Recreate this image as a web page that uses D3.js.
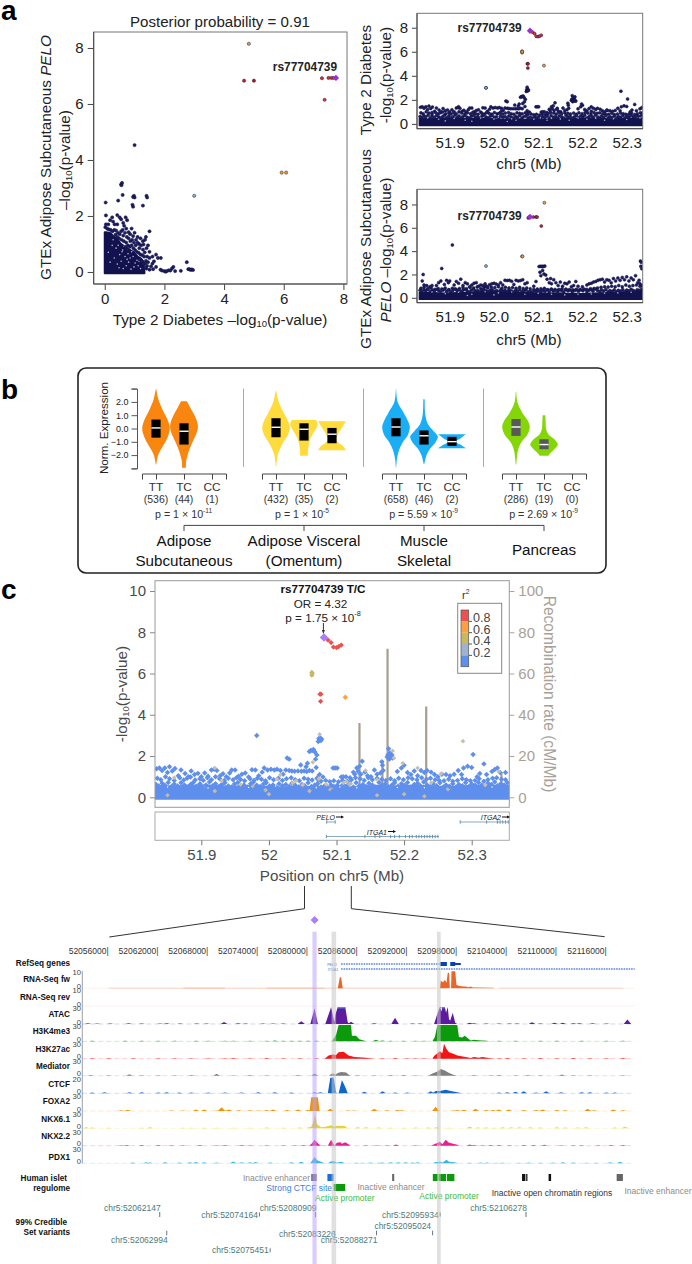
<!DOCTYPE html>
<html><head><meta charset="utf-8">
<script src="https://cdn.jsdelivr.net/npm/d3@7/dist/d3.min.js"></script>
<style>html,body{margin:0;padding:0;background:#fff}svg{display:block}text{font-family:"Liberation Sans",Arial,sans-serif}</style>
</head><body><div id="chart"></div>
<script>
// ---------- DATA ----------
const leadSnp = "rs77704739";
// Panel a, scatter (T2D -log10 p, eQTL -log10 p)
const scatterNavy = [[1,4.53],[.55,3.13],[.58,3.18],[.56,3.1],[.6,2.75],[.95,2.68],[.98,2.72],[1,2.66],[.93,2.4],[.95,2.33],[1.28,2.37],[1.4,2.72],[1.42,2.66],[.45,2.55],[.03,2.48],[.04,2.02],[.18,1.85],[.25,1.95],[.28,1.8],[.33,1.7],[.42,2.03],[.5,1.95],[.55,1.88],[.62,1.75],[.7,1.95],[.75,1.85],[.65,1.65],[.42,1.7],[.12,1.7],[.04,1.7],[.9,1.55],[1.0,1.4],[1.1,1.25],[1.05,1.15],[1.2,1.2],[1.28,1.1],[1.35,1.15],[1.5,1.45],[1.38,1.25],[1.45,.95],[1.5,.72],[1.6,.55],[1.72,.62],[1.78,.5],[1.88,.5],[1.6,.3],[1.65,.38],[1.55,.2],[1.72,.18],[1.5,.08],[1.62,.1],[1.87,.08],[1.92,.05],[2,.03],[2.04,.01],[2.08,.03],[2.14,.06],[2.2,.05],[2.25,.12],[2.3,.18],[2.36,.03],[2.55,.04],[2.75,.35],[2.8,.1],[2.84,.1],[2.88,.07],[2.92,.09],[2.96,.07],[.8,1.42],[.72,1.55],[.6,1.5],[.85,1.35],[.95,1.28],[1.15,1.0],[1.3,.98],[1.42,.55],[1.45,.35],[1.5,.5],
[.02,1.6],[.08,1.55],[.14,1.52],[.2,1.5],[.26,1.45],[.32,1.5],[.38,1.48],[.44,1.4],[.5,1.35],[.55,1.45],[.62,1.3],[.68,1.4],[.74,1.25],[.8,1.2],[.86,1.1],[.92,1.15],[.98,1.05],[1.04,.95],[1.1,1.05],[1.16,.85],[1.22,.95],[1.28,.8],[1.34,.7],[1.4,.85],[.48,1.2],[.56,1.15],[.64,1.1],[.72,1.05],[.78,.95],[.84,.9],[.9,.95],[.96,.85],[1.02,.78],[1.08,.72],[1.14,.68],[1.2,.62],[1.26,.6],[1.32,.55],[1.38,.4],[1.42,.22],[1.36,.3],[1.4,.12],[1.34,.15],[.36,1.33],[.42,1.25],[.7,.9],[.76,.8],[1.18,.45],[1.24,.38],[1.3,.3]];
const scatterHoles = [[.42,.28],[.58,.72],[.72,.22],[.85,.5],[.95,.55],[1.02,.32],[1.12,.22],[1.2,.12],[.65,.92],[.78,.65],[.45,.95],[.55,.38],[.98,.18],[.38,.85],[1.08,.42],[.88,.1],[.68,.55],[.5,.62],[.62,.12],[.8,.35],[.9,.72],[.32,.5],[.25,.95],[.18,.35],[.12,.7],[.28,1.15],[.6,.78],[.75,.45],[1.15,.38],[.48,.15]];
const scatterEnvelopeX = [0,.05,.2,.3,.42,.52,.65,.8,.95,1.1,1.22,1.3,1.33];
const scatterEnvelopeY = [1.42,1.42,1.38,1.26,1.18,1.02,.92,.82,.72,.55,.48,.36,0];
const scatterColored = [[7.28,6.92,"#e0343a"],[7.5,6.93,"#e0343a"],[7.6,6.93,"#e0343a"],[7.67,6.93,"#e0343a"],[7.37,6.15,"#e0343a"],[4.67,6.83,"#d81c28"],[5,6.83,"#b5121f"],[4.83,8.15,"#d9a050"],[5.93,3.55,"#f0a030"],[6.08,3.55,"#f0a030"],[3,2.72,"#8fb3c4"]];
const leadScatter = [7.75,6.93];
// T2D GWAS above the dense band, [Mb, -log10 p]
const t2dBlue = [[51.834,1.38],[51.838,1.42],[51.842,1.3],[51.846,1.42],[51.85,1.2],[51.853,1.48],[51.857,1.28],[51.861,1.4],[51.866,1.05],[51.87,1.32],[51.876,1.15],[51.881,1.0],[51.885,1.28],[51.89,1.1],[51.895,1.16],[51.9,1.0],[51.905,1.18],[51.91,1.02],[51.915,1.32],[51.919,1.36],[51.923,1.3],[51.928,1.05],[51.932,1.14],[51.937,1.0],[51.942,1.18],[51.945,1.32],[51.95,1.32],[51.955,1.02],[51.96,1.12],[51.965,1.18],[51.97,.98],[51.975,1.34],[51.98,1.32],[51.985,1.05],[51.99,1.22],[51.993,1.42],[51.998,1.32],[52.003,1.36],[52.008,1.32],[52.012,1.36],[52.017,1.3],[52.021,1.12],[52.025,1.32],[52.03,1.3],[52.034,1.28],[52.038,1.26],[52.043,1.27],[52.048,1.26],[52.052,1.27],[52.056,1.25],[52.06,1.3],[52.064,1.27],[52.027,1.9],[52.03,1.85],[52.047,1.57],[52.055,1.48],[52.057,1.65],[52.06,2.22],[52.062,2.27],[52.064,2.27],[52.066,2.32],[52.068,2.2],[52.069,1.85],[52.071,2.05],[52.073,2.7],[52.074,2.85],[52.075,2.78],[52.076,2.88],[52.077,2.75],[52.078,2.82],[52.07,1.45],[52.075,1.1],[52.08,.98],[52.095,1.42],[52.098,1.42],[52.101,1.42],[52.107,.98],[52.11,1.0],[52.114,1.0],[52.12,.95],[52.125,1.22],[52.127,1.12],[52.13,1.42],[52.132,1.25],[52.134,1.5],[52.136,1.12],[52.138,1.75],[52.142,1.22],[52.146,1.05],[52.151,1.0],[52.156,1.32],[52.16,1.12],[52.165,1.18],[52.167,1.72],[52.168,1.55],[52.169,1.3],[52.175,1.95],[52.176,2.05],[52.177,2.35],[52.178,1.85],[52.179,2.15],[52.18,1.95],[52.182,2.05],[52.183,1.9],[52.19,1.25],[52.196,1.42],[52.2,1.55],[52.205,1.2],[52.21,1.1],[52.215,1.28],[52.22,1.05],[52.225,1.3],[52.23,1.2],[52.234,1.3],[52.24,1.22],[52.245,1.1],[52.25,1.0],[52.256,1.12],[52.262,1.1],[52.268,1.05],[52.274,1.12],[52.28,1.3],[52.285,1.1],[52.288,1.42],[52.294,1.5],[52.3,1.45],[52.302,2.07],[52.308,1.0],[52.312,1.15],[52.318,1.62],[52.322,1.1],[52.33,1.25],[52.334,1.35],[52.338,1.42],[52.342,1.2],[52.35,1.2],[51.982,3]];
const t2dRow = [51.835,51.84,51.847,51.853,51.86,51.868,51.874,51.879,51.884,51.891,51.898,51.903,51.909,51.915,51.921,51.927,51.934,51.94,51.947,51.952,51.958,51.964,51.972,51.978,51.983,51.989,51.995,52.001,52.007,52.014,52.02,52.026,52.033,52.039,52.045,52.052,52.058,52.064,52.071,52.077,52.084,52.09,52.096,52.103,52.109,52.116,52.122,52.128,52.135,52.141,52.147,52.153,52.16,52.167,52.173,52.18,52.186,52.192,52.199,52.206,52.212,52.219,52.226,52.233,52.239,52.246,52.252,52.259,52.266,52.272,52.279,52.286,52.292,52.298,52.305,52.311,52.318,52.324,52.331,52.337,52.344,52.35];
const t2dRowY = [.92,.85,1.0,.9,.82,.95,.84,.92,.98,.84,.9,.82,.95,.85,1.0,.9,.82,.92,.85,.95,.86,.8,.9,.82,.92,.88,.8,.95,.85,.92,.82,.9,.95,.85,.8,.92,.88,.84,.92,.78,.82,.76,.8,.75,.82,.78,.85,.95,.9,.82,.95,.85,.92,.88,.82,.9,.8,.92,.85,.95,.9,.85,.95,.88,.92,.85,.82,.8,.88,.78,.82,.9,.85,.8,.82,.9,.78,.85,.92,.95,.88,.85];
const t2dRow2 = [51.833,51.837,51.842,51.846,51.851,51.856,51.86,51.865,51.87,51.875,51.879,51.884,51.888,51.893,51.898,51.902,51.907,51.912,51.917,51.921,51.926,51.93,51.935,51.94,51.945,51.949,51.954,51.958,51.963,51.968,51.973,51.977,51.982,51.987,51.992,51.996,52.001,52.006,52.011,52.015,52.02,52.025,52.03,52.034,52.039,52.044,52.049,52.053,52.058,52.063,52.068,52.072,52.077,52.082,52.087,52.092,52.096,52.101,52.106,52.11,52.115,52.12,52.125,52.129,52.134,52.139,52.144,52.148,52.153,52.158,52.163,52.167,52.172,52.177,52.182,52.186,52.191,52.196,52.201,52.205,52.21,52.215,52.22,52.224,52.229,52.234,52.239,52.243,52.248,52.253,52.258,52.262,52.267,52.272,52.277,52.281,52.286,52.291,52.296,52.3,52.305,52.31,52.315,52.319,52.324,52.329,52.334,52.338,52.343,52.348,52.353];
const t2dRow2Y = [.62,.55,.68,.58,.72,.52,.65,.55,.7,.6,.5,.62,.72,.54,.66,.5,.6,.74,.56,.66,.52,.62,.7,.55,.5,.64,.72,.56,.6,.5,.66,.74,.58,.52,.64,.7,.55,.6,.5,.66,.56,.62,.52,.68,.58,.5,.62,.56,.7,.52,.6,.66,.5,.55,.48,.6,.52,.58,.5,.62,.54,.66,.5,.7,.56,.62,.52,.68,.6,.5,.72,.58,.64,.5,.6,.7,.54,.66,.58,.72,.5,.62,.68,.56,.74,.6,.52,.66,.56,.7,.5,.6,.54,.66,.5,.62,.56,.7,.52,.64,.58,.72,.6,.54,.68,.62,.74,.56,.66,.6,.7];
const t2dBandX = [51.8315,51.86,51.88,51.9,51.92,51.94,51.96,51.98,52,52.02,52.04,52.06,52.08,52.1,52.12,52.14,52.16,52.18,52.2,52.22,52.24,52.26,52.28,52.3,52.32,52.34,52.3556];
const t2dBandY = [.46,.42,.46,.48,.46,.42,.44,.46,.4,.38,.42,.4,.36,.4,.38,.42,.46,.42,.46,.46,.44,.4,.42,.46,.46,.46,.46];
const t2dHoles = [[51.85,.5],[51.875,.38],[51.91,.45],[51.935,.3],[51.97,.48],[52.0,.4],[52.01,.55],[52.04,.42],[52.05,.3],[52.07,.46],[52.09,.38],[52.105,.5],[52.12,.3],[52.13,.46],[52.15,.4],[52.17,.3],[52.19,.48],[52.21,.38],[52.23,.46],[52.25,.3],[52.27,.42],[52.3,.36],[52.33,.5],[51.89,.25],[51.95,.22],[52.03,.2]];
const t2dReds = [[52.0875,7.62],[52.092,7.5],[52.0955,7.28],[52.1,7.26],[52.103,7.3],[52.107,7.38],[52.0755,5],[52.077,5],[52.0765,4.65]];
const t2dOrange = [[52.113,4.85]];
const t2dOlive = [[52.0635,6.05],[52.0635,5.92],[52.064,6]];
const t2dTan = [[51.905,.55],[51.86,.95],[51.92,1.42],[51.93,.8],[51.958,.62],[51.976,.55],[52.012,.88],[52.017,1.08],[52.04,.8],[52.075,3.05],[52.065,1.7],[52.05,.6],[52.035,.7],[52.074,.9],[52.085,.62],[52.09,.4],[52.095,.5],[52.11,.7],[52.115,.75],[52.143,1.3],[52.16,.85],[52.183,2.25],[52.185,1.9],[52.198,1.65],[52.22,1.42],[52.24,.7],[52.255,1.15],[52.265,.4],[52.287,2.72],[52.34,1.25],[52.32,.6],[52.06,.3],[52.16,.1],[52.2,.15],[52.12,.65],[52.23,.05],[52.0,.15],[51.995,.35],[51.92,.3],[51.85,.1]];
const leadPos = 52.0815, leadT2d = 7.75, leadEqtl = 6.93;
// eQTL GTEx adipose, Mb vs -log10 p
const eqtlBlue = [[51.84,2],[51.838,1.45],[51.882,2.52],[51.906,4.53],[51.87,1.05],[51.875,1.3],[51.88,1.45],[51.888,1.15],[51.893,1.5],[51.897,1.3],[51.9,1.45],[51.91,1.1],[51.915,1.4],[51.92,1.25],[51.925,1.6],[51.93,1.05],[51.935,1.3],[51.94,1.2],[51.945,.95],[51.95,1.1],[51.955,1.25],[51.96,1.3],[51.965,1.0],[51.97,1.1],[51.975,1.05],[51.98,1.2],[51.985,.95],[51.99,1.12],[51.995,1.2],[52,1.25],[52.005,1.18],[52.01,1.1],[52.015,1.3],[52.02,1.1],[52.025,1.5],[52.03,1.48],[52.035,1.5],[52.04,1.42],[52.045,1.15],[52.05,1.5],[52.055,1.45],[52.06,1.48],[52.065,1.55],[52.07,1.2],[52.075,1.3],[52.09,1.0],[52.095,1.4],[52.102,2.68],[52.105,2.7],[52.108,2.68],[52.11,2.7],[52.112,2.68],[52.115,2.72],[52.104,2.2],[52.106,1.9],[52.11,2.35],[52.113,2.05],[52.117,1.95],[52.12,1.6],[52.125,1.3],[52.128,1.65],[52.13,1.2],[52.135,1.55],[52.14,1.3],[52.145,1.05],[52.15,1.35],[52.155,1.0],[52.16,1.25],[52.165,1.2],[52.17,1.35],[52.175,.95],[52.18,1.05],[52.185,1.4],[52.19,1.0],[52.2,.95],[52.21,1.1],[52.215,1.2],[52.22,1.25],[52.225,1.35],[52.23,1.4],[52.235,1.5],[52.24,1.55],[52.245,1.6],[52.25,1.35],[52.255,1.55],[52.26,1.5],[52.265,1.3],[52.27,1.65],[52.275,1.45],[52.28,1.7],[52.285,1.5],[52.29,1.75],[52.295,1.55],[52.3,1.8],[52.305,1.45],[52.31,1.7],[52.315,1.55],[52.32,1.9],[52.325,1.3],[52.328,1.5],[52.331,3.15],[52.333,3.05],[52.332,2.7],[52.334,2.5],[52.33,1.2],[52.334,1.05],[51.982,1.0],[51.842,1.1],[51.848,1.05],[51.855,.95],[51.86,1.05]];
const eqtlRow = [51.835,51.842,51.85,51.858,51.866,51.874,51.882,51.89,51.898,51.906,51.914,51.922,51.93,51.938,51.946,51.954,51.962,51.97,51.978,51.986,51.994,52.002,52.01,52.018,52.026,52.034,52.042,52.05,52.058,52.066,52.074,52.082,52.09,52.098,52.106,52.114,52.122,52.13,52.138,52.146,52.154,52.162,52.17,52.178,52.186,52.194,52.202,52.21,52.218,52.226,52.234,52.242,52.25,52.258,52.266,52.274,52.282,52.29,52.298,52.306,52.314,52.322,52.33];
const eqtlRowY = [.82,.9,.78,.88,.72,.8,.76,.85,.7,.82,.74,.8,.88,.78,.9,.85,.92,.8,.9,.85,.92,.88,.95,.82,.9,.85,.88,.82,.9,.8,.85,.78,.72,.75,.78,.82,.7,.75,.72,.7,.78,.72,.7,.68,.7,.72,.7,.72,.78,.8,.85,.9,.95,.92,1.0,.95,1.05,.95,1.1,1.0,1.05,1.1,1.0];
const eqtlBandX = [51.8315,51.86,51.88,51.9,51.92,51.94,51.96,51.98,52,52.02,52.04,52.06,52.08,52.1,52.12,52.14,52.16,52.18,52.2,52.22,52.24,52.26,52.28,52.3,52.32,52.34,52.3556];
const eqtlBandY = [.46,.46,.4,.42,.44,.46,.52,.58,.56,.5,.52,.48,.44,.42,.4,.42,.38,.36,.34,.38,.42,.46,.5,.52,.56,.58,.58];
const eqtlHoles = [[51.86,.5],[51.89,.35],[51.92,.48],[51.95,.3],[51.98,.52],[52.01,.42],[52.04,.5],[52.07,.3],[52.1,.38],[52.13,.3],[52.16,.25],[52.19,.3],[52.22,.32],[52.25,.4],[52.28,.42],[52.31,.48],[52.34,.4],[52.0,.25],[51.94,.2]];
const eqtlReds = [[52.0775,6.85],[52.0795,6.92],[52.089,6.92],[52.095,6.93],[52.0975,6.92],[52.107,6.15]];
const eqtlOrange = [[52.114,8.15],[52.0635,3.55],[52.0645,3.55]];
const eqtlTeal = [[51.982,2.72]];
// Recombination rate, Mb vs cM/Mb
const recombPos = [52.0723,52.134,52.168,52.1755,52.2327,52.344];
const recombRate = [11,36,18,72,44,12];
// Panel b
const tissues = ["Adipose Subcutaneous","Adipose Visceral (Omentum)","Muscle Skeletal","Pancreas"];
const tissueColors = ["#f8860f","#ffdb3c","#19aef5","#84d606"];
const genotypes = ["TT","TC","CC"];
const sampleCounts = [[536,44,1],[432,35,2],[658,46,2],[286,19,0]];
const pValues = [["1","-11"],["1","-5"],["5.59","-9"],["2.69","-9"]];
const adiposeTT = [[2.95,.02],[2.2,.17],[1.5,.44],[1,.68],[.5,.9],[0,1],[-.5,.9],[-1,.68],[-1.5,.4],[-2,.15],[-2.7,.02]];
const adiposeTC = [[2.05,.22],[1.6,.44],[1,.76],[.4,.98],[0,1],[-.5,.85],[-1,.62],[-1.5,.42],[-2,.26],[-2.5,.15],[-2.95,.14]];
const visceralTT = [[2.85,.02],[2,.2],[1.2,.55],[.5,.9],[0,1],[-.5,.85],[-1,.55],[-1.5,.3],[-2,.12],[-2.85,.02]];
const visceralTC = [[.65,.88],[.3,1],[0,.88],[-.3,.7],[-.8,.45],[-1.3,.33],[-2.05,.28]];
const visceralCC = [[.55,1],[.2,.8],[-.2,.55],[-.6,.35],[-.9,.32],[-1.1,.5],[-1.3,.8],[-1.62,1]];
const muscleTT = [[3,.01],[2,.12],[1.2,.55],[.5,.9],[.1,1],[-.5,.85],[-1,.5],[-1.6,.22],[-2.2,.08],[-2.95,.01]];
const muscleTC = [[2.2,.05],[1,.1],[.3,.3],[-.2,.7],[-.6,1],[-1,.85],[-1.5,.45],[-2,.18],[-2.65,.03]];
const muscleCC = [[-.42,1],[-.7,.65],[-.98,.28],[-1.2,.6],[-1.48,1]];
const pancreasTT = [[2.75,.02],[2,.1],[1.2,.45],[.6,.85],[.1,1],[-.5,.8],[-1,.4],[-1.6,.15],[-2.7,.02]];
const pancreasTC = [[1,.1],[.5,.12],[0,.15],[-.4,.3],[-.8,.75],[-1.2,1],[-1.5,.8],[-1.85,.45],[-2.05,.3]];
const violinRows = [[adiposeTT,adiposeTC,null],[visceralTT,visceralTC,visceralCC],[muscleTT,muscleTC,muscleCC],[pancreasTT,pancreasTC,null]];
const boxRows = [[[.68,.05,-.68],[.4,-.2,-1.2],null],[[.78,.1,-.65],[.4,-.05,-.9],[.05,-.42,-1.1]],[[.78,.12,-.58],[-.14,-.54,-1.2],[-.62,-.98,-1.3]],[[.72,.12,-.55],[-.8,-1.2,-1.55],null]];
const boxFill = [["#000","#000"],["#000","#000","#000"],["#000","#000","#000"],["#58595b","#58595b"]];
// Panel c legend
const r2Colors = ["#ee5050","#ffa03c","#c9b860","#9fb2cf","#5f8fec"];
const r2Labels = ["0.8","0.6","0.4","0.2"];
const geneExonsPelo = [52.0855,52.098];
const geneExonsItga1 = [52.085,52.142,52.157,52.164,52.18,52.186,52.193,52.202,52.208,52.212,52.218,52.222,52.226,52.23,52.234,52.238,52.242,52.246,52.25];
const geneExonsItga2 = [52.283,52.322,52.338,52.342,52.346,52.35,52.354];
// Panel c lower genome browser (kb after 52,000,000)
const rulerKb = [56,62,68,74,80,86,92,98,104,110,116];
const trackNames = ["RNA-Seq fw","RNA-Seq rev","ATAC","H3K4me3","H3K27ac","Mediator","CTCF","FOXA2","NKX6.1","NKX2.2","PDX1"];
const trackColors = ["#e8662a","#e8662a","#5d1a9e","#0b9a0b","#f41414","#7f7f7f","#1166cc","#f0920a","#e8d330","#e81e96","#34b6e8"];
const trackMax = [10,10,30,30,30,30,20,30,30,30,30];
const rnaFwProfile = [[83.6,0],[83.85,6.5],[84.0,6.5],[84.2,0],[95.9,0],[96,4.5],[96.3,3.5],[96.5,5],[96.7,3.2],[96.85,9.2],[97,9.2],[97.1,0],[97.25,0],[97.3,10],[97.75,10],[97.9,2],[98.3,1.4],[98.7,1],[99,1],[99.4,.6],[99.6,1],[99.9,.4],[100.5,.5],[102.3,.3],[102.5,0]];
const rnaFwFaint = [[56,90],[65,70],[75,82],[90,95.5],[103,118]];
const atacProfile = [[80.3,0],[80.8,28],[81.2,0],[82.1,0],[82.8,30],[83.2,3],[83.3,16],[83.6,30],[84.5,30],[84.8,3],[85,0],[95.2,0],[95.6,18],[95.9,30],[96.1,22],[96.2,30],[96.5,30],[96.65,20],[96.85,30],[97,8],[97.15,6],[97.45,20],[97.75,2],[98,0]];
const atacBumps = [[53.5,1.5],[54.6,1],[56.2,1],[58.4,1.2],[60,1],[62.2,1],[63,1.2],[64.6,1],[66.6,1],[67.8,1],[69.9,3.5],[71.6,1.2],[72.5,1],[74.6,1],[75.8,1],[77,1],[79.2,5],[85.2,4],[88,1.5],[90.5,11],[92.6,1],[93.5,1],[99.5,2],[100,1.5],[101.5,1],[103,1],[104.3,1],[105.2,1],[107,3],[108,1],[109.7,2],[110.7,2],[112,1.5],[112.7,1.5],[114.3,1.2],[116,1],[118.5,8]];
const h3k4Profile = [[82.9,0],[83.4,12],[83.7,30],[85.2,30],[85.3,10],[85.8,10],[86.2,4],[86.8,1],[87,0],[95,0],[95.3,8],[95.6,30],[98,30],[98.2,8],[98.6,7],[98.9,10],[99.3,5],[99.6,1.5],[100,3],[100.5,2],[101.5,1],[102,0]];
const h3k4Bumps = [[54,.8],[58,.8],[60,.8],[62,.8],[64,1],[66.5,1],[68,1],[70,1],[71,1],[73,1],[75,1],[76,1.5],[77,1],[78,1],[79,1],[80,.8],[81,.8],[88.2,3],[89,1.5],[90,1],[91.5,1],[93,1],[94,1],[103,1],[105,.8],[108,.8],[110,1.2],[113,1],[116,1],[118,.8]];
const h3k27Profile = [[82,0],[82.5,6],[83,8],[83.4,7],[83.7,12],[84.3,13],[84.9,6],[85.6,3],[87,2],[88,0],[95,0],[95.2,5],[95.6,10],[95.9,14],[96.2,10],[96.4,28],[96.7,18],[97,12],[97.6,9],[98,6],[99,3],[99.6,1.5],[100,3],[100.6,2],[101,3],[102,1],[102.5,0]];
const h3k27Bumps = [[54,.8],[56,.8],[59,.8],[62,.8],[64,.8],[66,1],[68,1],[70,1],[71,1.5],[73,1],[75,1.2],[77,1],[79,1],[81,1],[89,1],[90.5,1.2],[92,1],[93,1],[94,1],[103,1],[104,1.2],[106,1],[108,1.2],[110,1],[112,1.2],[114,1],[116,1],[118,1.5]];
const mediatorProfile = [[80.4,0],[80.8,4],[81.2,0],[82.5,0],[83,4.5],[83.3,2],[83.6,5],[84,7],[84.6,6],[85,1],[85.2,0],[94.5,0],[95,4],[95.6,8],[96,13],[96.5,10],[96.9,6],[97.5,2],[98,0]];
const mediatorBumps = [[53.8,1.5],[56,1],[58.5,3],[60,1],[62,1],[64,1],[66,1.2],[69,3.5],[71,1],[73,1.2],[75,1],[78.8,1.5],[86,1],[88,1],[90,1.5],[91.5,1.2],[93,1],[100,1.2],[102,1],[103,1.2],[105,1],[106.5,1.2],[108,1],[110.6,2.5],[112,1],[114,1],[118,1]];
const ctcfProfile = [[82.4,0],[82.7,20],[83.1,20],[83.4,1],[83.6,0],[83.7,0],[84.1,17],[84.5,8],[84.8,0],[95,0],[95.4,3],[95.9,3],[96.6,4.5],[97.2,3],[98,1.5],[98.5,0]];
const ctcfBumps = [[54,1],[55.5,1.2],[58.5,1.5],[60,1.2],[62,1],[63,1.5],[64.5,1],[66,1],[68,1],[70,1],[72,1],[74,1.2],[76,1.2],[78,1],[80.8,1.5],[81.5,1.2],[86.8,2],[89,2.5],[90.5,1],[92,1],[94.8,2.5],[103,1],[104,1.2],[105,2],[106,2.5],[107.5,1],[108.7,2.5],[110.5,1.5],[113,1.2],[114,1.5],[116,1],[117,1]];
const foxa2Profile = [[80.2,0],[80.4,26],[81.2,26],[81.4,0]];
const foxa2Bumps = [[57.5,1.5],[58.3,2.5],[63.5,.8],[65,1],[66.5,3],[67.5,3],[69,1],[70,1],[69.6,7],[70.5,3],[71.7,1.5],[73,1.5],[74,1],[75,2],[75.8,3],[77.5,2],[78.8,3],[80,2],[82.7,4],[84.8,1],[85.5,1],[88,4],[89.5,1.5],[90.8,2],[91.3,1.5],[95.4,8],[97.5,1],[98,2],[98.8,2.5],[100.2,4],[101.5,2],[102.3,2],[103,3],[104.2,3],[106,2],[107.5,2],[108.3,3],[110,2],[111,1.5],[113.7,4],[114.5,1.5],[116.8,3],[118,1.5]];
const nkx61Profile = [[79.9,1],[80.4,3],[80.6,10],[80.85,28],[81.1,8],[81.6,2],[82,2.5],[82.8,6],[83.2,2.5],[83.5,5],[84.4,5],[84.7,1],[85,0]];
const nkx61Bumps = [[53.3,2],[54,1.5],[56,1],[60,1],[61,2],[65,1],[66,1],[67.5,1],[69,1.2],[71,1],[73,1],[75,1.5],[77,1.2],[79,1.5],[86,2],[87,2],[88.5,1.5],[90,1.2],[91.5,1],[93,1.5],[94.5,1.5],[95.5,2],[97,1],[99.5,3],[100.5,1.5],[101.5,1.5],[102.5,1],[103.5,2],[104.5,2],[105.5,2],[106.8,2],[108,1.5],[110,2],[111,1.5],[112.5,1.5],[113.5,2],[117,1.5],[118.2,3]];
const nkx22Profile = [[80.2,.5],[80.5,5],[80.8,12],[81.2,5],[81.5,.5],[82.4,0],[82.8,12],[83.2,1],[83.5,6],[83.9,7],[84.1,4],[84.5,7],[84.9,3],[85.1,0],[94.8,0],[95.2,3],[95.5,5],[95.9,8],[96.2,3],[96.6,12],[97,6],[97.5,4],[98,2],[98.2,0]];
const nkx22Bumps = [[57.5,1],[58.2,1.5],[60,1.5],[62,1.2],[63.5,1],[65,1],[67,1.5],[69,1],[70,1.5],[72,1.2],[73,1],[75,1],[77,1],[78.5,1],[79.5,1.2],[87,1],[88.3,1],[89.5,1],[90.6,2.5],[93,1],[99.5,2.5],[100,1.2],[101,1],[102,1.5],[103,1.5],[104.3,1],[106,1.5],[107.2,1.2],[108.5,2],[110.5,1],[112,1],[113,1],[115,1],[116.5,1.5],[118,1.5]];
const pdx1Profile = [[80.3,0],[80.8,12],[81.2,5],[81.6,3],[82,0],[82.4,0],[82.8,4],[83.2,4],[83.5,1],[84,3],[84.5,0],[95,0],[95.4,2.5],[96,3],[96.2,1],[96.7,7],[97,3],[97.6,2],[98.2,0]];
const pdx1Bumps = [[58.9,1.5],[60.5,2],[61,1.5],[62.8,2],[64.5,1.5],[65.8,2],[66.5,2.5],[67.5,2],[69,1.5],[71,3.5],[72,2],[73,2],[73.7,2.5],[75.5,1.5],[78,2],[79.2,3],[85.8,1],[86.5,1],[87.5,1.5],[88.5,1],[89,1.5],[90,2],[90.9,2],[91.8,2],[92.6,1.5],[93.2,2],[99.5,1],[100.8,1.5],[101.6,1.5],[102.7,1],[103.5,1.2],[105.5,1],[106.6,1.5],[108,1],[109.5,1.5],[110.7,2],[112,1.5],[113.5,1.2],[114.7,1],[116.4,2],[117.6,3]];
const trackProfiles = [rnaFwProfile,[],atacProfile,h3k4Profile,h3k27Profile,mediatorProfile,ctcfProfile,foxa2Profile,nkx61Profile,nkx22Profile,pdx1Profile];
const trackBumps = [[],[],atacBumps,h3k4Bumps,h3k27Bumps,mediatorBumps,ctcfBumps,foxa2Bumps,nkx61Bumps,nkx22Bumps,pdx1Bumps];
// Islet regulome: start kb, end kb, row, colour
const regBlocks = [[80.4,81.05,0,"#6e6a86"],[82.35,83.1,0,"#1a6fd8"],[83.1,84.5,1,"#0c9a0c"],[90.15,90.4,0,"#666"],[95.05,95.7,0,"#0c9a0c"],[95.75,96.65,0,"#0c9a0c"],[96.75,97.65,0,"#0c9a0c"],[105.8,106.2,0,"#111"],[106.3,106.45,0,"#111"],[109.0,109.3,0,"#111"],[117.2,117.95,0,"#666"]];
const regLabels = [["Inactive enhancer",310,1177.5,"end","#8c8c8c"],["Strong CTCF site",332,1188,"end","#3c80e0"],["Active promoter",315,1198,"start","#3dba3d"],["Inactive enhancer",391,1186.5,"middle","#8c8c8c"],["Active promoter",449,1196,"middle","#3dba3d"],["Inactive open chromatin regions",552,1192.5,"middle","#333"],["Inactive enhancer",658,1191,"middle","#8c8c8c"]];
const variantBp = [52062147,52062994,52074164,52080909,52075451,52083226,52088271,52095934,52095024,52106278];
const variantRows = [0,2,1,0,3,2,2,1,1.5,0];
const lociHighlight = [[80.55,81.05,"#baa2ff"],[82.85,83.4,"#c6c6c6"],[95.55,96.0,"#c6c6c6"]];

// ---------- HELPERS ----------
const FONT = '"Liberation Sans",Arial,sans-serif';
const svg = d3.select("#chart").append("svg").attr("width",692).attr("height",1264).attr("viewBox","0 0 692 1264");
svg.append("rect").attr("width",692).attr("height",1264).attr("fill","#fff");
function label(g,x,y,str,o={}){
  const size=o.size||14;
  const t=g.append("text").attr("x",x).attr("y",y).attr("text-anchor",o.anchor||"middle")
    .attr("dominant-baseline","central").attr("font-size",size).attr("fill",o.fill||"#222")
    .attr("font-weight",o.weight||"normal").attr("font-style",o.style||"normal");
  if(o.rotate!=null) t.attr("transform",`rotate(${o.rotate} ${x} ${y})`);
  let pending=0;
  (Array.isArray(str)?str:[str]).forEach(p=>{
    const sp=t.append("tspan");
    if(typeof p==="string"||typeof p==="number"){ if(pending) sp.attr("dy",pending); pending=0; sp.text(String(p)); return; }
    const shift=p.sub?size*.28:-size*.34;
    sp.attr("dy",shift+pending); pending=-shift;
    if(p.sub||p.sup) sp.attr("font-size",size*.62); else sp.attr("font-size",size);
    if(p.it) sp.attr("font-style","italic");
    sp.text(p.t);
  });
  return t;
}
const sup=(t)=>({t,sup:true});
const logText=(prefix)=>[prefix+"log",{t:"10",sub:true},"(p-value)"];
function styleAxis(a,col,lw,size){
  a.select(".domain").remove();
  a.selectAll("line").attr("stroke",col).attr("stroke-width",lw);
  a.selectAll("text").attr("font-size",size).attr("fill","#222").attr("font-family",FONT);
}
function frame(g,x,y){
  const r=[x.range(),y.range()];
  g.append("rect").attr("x",r[0][0]).attr("y",r[1][1]).attr("width",r[0][1]-r[0][0]).attr("height",r[1][0]-r[1][1]).attr("fill","none").attr("stroke","#777").attr("stroke-width",1);
  g.append("path").attr("d",`M${r[0][0]},${r[1][1]}V${r[1][0]}H${r[0][1]}`).attr("fill","none").attr("stroke","#444").attr("stroke-width",1);
}
const NAVY="#1b1b66";
function dots(g,data,x,y,r,fill){
  g.append("g").selectAll("circle").data(data).join("circle").attr("cx",d=>x(d[0])).attr("cy",d=>y(d[1])).attr("r",r).attr("fill",d=>d[2]||fill).attr("stroke","#14143c").attr("stroke-width",.5);
}
function leadMark(g,px,py,size,fill){
  g.append("path").attr("d",d3.symbol().type(d3.symbolSquare).size(size)()).attr("transform",`translate(${px},${py}) rotate(45)`).attr("fill",fill);
}
function speckle(g,data,x,y,fill,r){
  g.append("g").selectAll("circle").data(data).join("circle").attr("cx",d=>x(d[0])).attr("cy",d=>y(d[1])).attr("r",r).attr("fill",fill);
}

// ---------- PANEL LETTERS ----------
label(svg,1,10,"a",{anchor:"start",size:28,weight:"bold",fill:"#000"});
label(svg,1,389,"b",{anchor:"start",size:28,weight:"bold",fill:"#000"});
label(svg,1,589,"c",{anchor:"start",size:28,weight:"bold",fill:"#000"});

// ---------- PANEL a LEFT ----------
{
  const g=svg.append("g");
  const x=d3.scaleLinear().domain([-.37,8.12]).range([93.7,347]);
  const y=d3.scaleLinear().domain([-.43,8.57]).range([284,32]);
  const ax=g.append("g").attr("transform","translate(0,284)").call(d3.axisBottom(x).tickValues([0,2,4,6,8]).tickSize(6).tickPadding(3));
  styleAxis(ax,"#444",1,15);
  const ay=g.append("g").attr("transform","translate(93.7,0)").call(d3.axisLeft(y).tickValues([0,2,4,6,8]).tickSize(6).tickPadding(4));
  styleAxis(ay,"#444",1,15);
  frame(g,x,y);
  const env=scatterEnvelopeX.map((v,i)=>[v,scatterEnvelopeY[i]]);
  g.append("path").datum(env).attr("d",d3.area().x(d=>x(d[0])).y0(y(0)+1.2).y1(d=>y(d[1]))).attr("fill","#12124e").attr("stroke","#12124e").attr("stroke-width",2).attr("stroke-linejoin","round");
  speckle(g,scatterHoles,x,y,"#b4b4d8",.8);
  dots(g,scatterNavy,x,y,1.6,NAVY);
  dots(g,scatterColored,x,y,1.6,NAVY);
  leadMark(g,x(leadScatter[0]),y(leadScatter[1]),20,"#9a2fd8");
  label(g,220,21,"Posterior probability = 0.91",{size:15.1});
  label(g,337,67,leadSnp,{anchor:"end",size:11.9,weight:"bold"});
  label(g,220,319,logText("Type 2 Diabetes \u2013"),{size:15.3});
  label(g,45,157.5,["GTEx Adipose Subcutaneous ",{t:"PELO",it:true,sub:false}],{size:15.3,rotate:-90}).select("tspan:nth-child(2)").attr("dy",null);
  label(g,64,160,logText("\u2013"),{size:15.3,rotate:-90});
}
// ---------- PANEL a RIGHT ----------
function locus(cfg){
  const g=svg.append("g");
  const x=d3.scaleLinear().range([417,642.7]).domain([51.9-(449.7-417)/442.5,51.9+(642.7-449.7)/442.5]);
  const y=d3.scaleLinear().domain(cfg.yDomain).range(cfg.yRange);
  const ax=g.append("g").attr("transform",`translate(0,${cfg.yRange[0]})`).call(d3.axisBottom(x).tickValues([51.9,52,52.1,52.2,52.3]).tickFormat(d3.format(".1f")).tickSize(0).tickPadding(cfg.pad));
  styleAxis(ax,"#444",1,15);
  const ay=g.append("g").attr("transform","translate(417,0)").call(d3.axisLeft(y).tickValues([0,2,4,6,8]).tickSize(5).tickPadding(4));
  styleAxis(ay,"#444",1,15);
  const band=cfg.bandX.map((v,i)=>[v,cfg.bandY[i]]);
  const clip="c"+cfg.id;
  g.append("clipPath").attr("id",clip).append("rect").attr("x",417).attr("y",cfg.yRange[1]).attr("width",225.7).attr("height",cfg.yRange[0]-cfg.yRange[1]);
  const inner=g.append("g").attr("clip-path",`url(#${clip})`);
  inner.append("path").datum(band).attr("d",d3.area().x(d=>x(d[0])).y0(y(0)+1.5).y1(d=>y(d[1]))).attr("fill","#12124e").attr("stroke","#12124e").attr("stroke-width",1.5).attr("stroke-linejoin","round");
  dots(inner,cfg.blue,x,y,1.5,NAVY);
  speckle(inner,cfg.holes,x,y,"#a6a6cf",.8);
  dots(inner,cfg.extra,x,y,1.5,null);
  frame(g,x,y);
  leadMark(g,x(leadPos),y(cfg.lead),20,"#9a2fd8");
  label(g,521.7,cfg.annY,leadSnp,{anchor:"end",size:11.9,weight:"bold"});
  label(g,529,cfg.titleY,"chr5 (Mb)",{size:15.3});
  return g;
}
{
  const blue=t2dBlue.concat(t2dRow.map((v,i)=>[v,t2dRowY[i]]),t2dRow2.map((v,i)=>[v,t2dRow2Y[i]]),t2dTan.filter(d=>d[1]>.85));
  const extra=t2dReds.map(d=>[d[0],d[1],d[1]>7?"#e0343a":"#c4141f"]).concat(t2dOrange.map(d=>[d[0],d[1],"#f0a030"]),t2dOlive.map(d=>[d[0],d[1],"#f0a030"]),[[51.982,3,"#8fb3c4"]]);
  const g=locus({id:"t",pad:9,yDomain:[-.4,9.2],yRange:[128.7,13.3],bandX:t2dBandX,bandY:t2dBandY,holes:t2dHoles,blue,extra,lead:leadT2d,annY:28,titleY:163});
  label(g,365,80,"Type 2 Diabetes",{size:15.3,rotate:-90});
  label(g,385,75,logText("-"),{size:15.3,rotate:-90});
}
{
  const blue=eqtlBlue.concat(eqtlRow.map((v,i)=>[v,eqtlRowY[i]]),t2dRow2.map((v,i)=>[v,t2dRow2Y[i]+0.02]));
  const extra=eqtlReds.map(d=>[d[0],d[1],"#d0202a"]).concat(eqtlOrange.map(d=>[d[0],d[1],"#e6a040"]),eqtlTeal.map(d=>[d[0],d[1],"#8fb3c4"]));
  const g=locus({id:"b",pad:9,yDomain:[-.42,9.3],yRange:[302.7,189.3],bandX:eqtlBandX,bandY:eqtlBandY,holes:eqtlHoles,blue,extra,lead:leadEqtl,annY:216,titleY:339.3});
  label(g,365,249,"GTEx Adipose Subcutaneous",{size:15.3,rotate:-90});
  const t=label(g,385,250,[{t:"PELO",it:true}," \u2013log",{t:"10",sub:true},"(p-value)"],{size:15.3,rotate:-90});
  t.select("tspan").attr("dy",null); t.select("tspan:nth-child(2)").attr("dy",null);
}
// ---------- PANEL b ----------
{
  const g=svg.append("g");
  g.append("rect").attr("x",78).attr("y",368).attr("width",528).attr("height",205).attr("rx",8).attr("fill","#fff").attr("stroke","#222").attr("stroke-width",1.6);
  const y=d3.scaleLinear().domain([2,-2]).range([402,455.2]);
  const ay=g.append("g").attr("transform","translate(137,0)").call(d3.axisLeft(y.copy().domain([3,-3]).range([388.6,468.4])).tickValues([3,2,1,0,-1,-2,-3]).tickSize(5.5).tickPadding(3).tickFormat(d=>(d===3||d===-3)?"":d3.format(".1f")(d)));
  ay.select(".domain").attr("stroke","#555");
  ay.selectAll("line").attr("stroke","#555");
  ay.selectAll("text").attr("font-size",9).attr("fill","#222").attr("font-family",FONT);
  ay.selectAll("text").filter(function(){return !this.textContent;}).remove();
  label(g,103,428,"Norm. Expression",{size:11.6,rotate:-90});
  tissues.forEach((t,i)=>{
    const left=142.5+120*i;
    const cx=d3.scalePoint().domain(genotypes).range([156+120*i,212+120*i]);
    const ax=g.append("g").attr("transform","translate(0,474)").call(d3.axisBottom(cx).tickSize(5.5).tickPadding(2));
    ax.select(".domain").remove(); ax.selectAll("text").remove(); ax.selectAll("line").attr("stroke","#444");
    g.append("path").attr("d",`M${left},479.5V474H${left+84}V479.5`).attr("fill","none").attr("stroke","#444");
    if(i>0) g.append("line").attr("x1",left-19).attr("x2",left-19).attr("y1",388.6).attr("y2",467).attr("stroke","#aaa").attr("stroke-width",1);
    genotypes.forEach((gt,j)=>{
      const c=cx(gt), prof=violinRows[i][j], box=boxRows[i][j];
      label(g,c,487,gt,{size:11.8,fill:"#333"});
      label(g,c,499,`(${sampleCounts[i][j]})`,{size:10.5,fill:"#333"});
      if(prof){
        const w=13.8;
        g.append("path").datum(prof).attr("d",d3.area().y(d=>y(d[0])).x0(d=>c-d[1]*w).x1(d=>c+d[1]*w).curve(d3.curveCatmullRom.alpha(.5))).attr("fill",tissueColors[i]);
        const bw=9.2;
        g.append("rect").attr("x",c-bw/2).attr("width",bw).attr("y",y(box[0])).attr("height",y(box[2])-y(box[0])).attr("fill",boxFill[i][j]);
        g.append("rect").attr("x",c-bw/2).attr("width",bw).attr("y",y(box[1])-.7).attr("height",1.4).attr("fill","#fff");
      }
    });
    label(g,184+120*i-(i==1?2:.4),514,[`p = ${pValues[i][0]} \u00d7 10`,sup(pValues[i][1])],{size:10.7,fill:"#333"});
  });
  const bx=d3.scalePoint().domain(tissues).range([184,544]);
  g.append("path").attr("d",`M${bx(tissues[0])},531V525.4H${bx(tissues[3])}V531`).attr("fill","none").attr("stroke","#444");
  g.append("path").attr("d",`M${bx(tissues[1])},525.4V531M${bx(tissues[2])},525.4V531`).attr("fill","none").attr("stroke","#444");
  [["Adipose",184,539.6],["Subcutaneous",184,560],["Adipose Visceral",304,539.6],["(Omentum)",304,560],["Muscle",424,539.6],["Skeletal",424,560],["Pancreas",544,549]].forEach(d=>label(g,d[1],d[2],d[0],{size:15.2,fill:"#111"}));
}
// ---------- PANEL c TOP ----------
{
  const g=svg.append("g");
  const x=d3.scaleLinear().domain([51.9-(201.3-155)/676,51.9+(509.3-201.3)/676]).range([155,509.3]);
  const y=d3.scaleLinear().domain([(797.3-807.3)/20.63,(797.3-580.7)/20.63]).range([807.3,580.7]);
  const yR=d3.scaleLinear().domain([0,100]).range([797.3,591]);
  const ay=g.append("g").attr("transform","translate(155,0)").call(d3.axisLeft(y).tickValues([0,2,4,6,8,10]).tickSize(5).tickPadding(4));
  styleAxis(ay,"#888",1,15); ay.selectAll("text").attr("fill","#4a4a4a");
  const aR=g.append("g").attr("transform","translate(509.3,0)").call(d3.axisRight(yR).tickValues([0,20,40,60,80,100]).tickSize(5).tickPadding(4));
  styleAxis(aR,"#aaa398",1,15); aR.selectAll("text").attr("fill","#a9a196");
  const clipId="cf";
  g.append("clipPath").attr("id",clipId).append("rect").attr("x",155).attr("y",580.7).attr("width",354.3).attr("height",226.6);
  const inner=g.append("g").attr("clip-path",`url(#${clipId})`);
  inner.append("g").selectAll("line").data(recombPos).join("line").attr("x1",d=>x(d)).attr("x2",d=>x(d)).attr("y1",yR(0)).attr("y2",(d,i)=>yR(recombRate[i])).attr("stroke","#a69d90").attr("stroke-width",2.2);
  const diam=(sel,data,fill,s)=>sel.append("g").selectAll("path").data(data).join("path").attr("d",d3.symbol().type(d3.symbolSquare).size(s)()).attr("transform",d=>`translate(${x(d[0])},${y(d[1])}) rotate(45)`).attr("fill",fill);
  const band=t2dBandX.map((v,i)=>[v,t2dBandY[i]+.1]);
  inner.append("path").datum(band).attr("d",d3.area().x(d=>x(d[0])).y0(y(0)+1.5).y1(d=>y(d[1]))).attr("fill","#5f8fec").attr("stroke","#5f8fec").attr("stroke-width",2).attr("stroke-linejoin","round");
  diam(inner,t2dTan.filter(d=>d[1]<=.55),"#c4b9a8",11);
  diam(inner,t2dRow2.map((v,i)=>[v,t2dRow2Y[i]]),"#5f8fec",15);
  speckle(inner,t2dHoles.filter(d=>d[1]>.42),x,y,"#fff",.7);
  diam(inner,t2dBlue.concat(t2dRow.map((v,i)=>[v,t2dRowY[i]])),"#5f8fec",15);
  diam(inner,t2dTan.filter(d=>d[1]>.55),"#c9bfa8",11);
  diam(inner,t2dOlive,"#c9b860",14);
  diam(inner,t2dOrange,"#ffa03c",14);
  diam(inner,t2dReds,"#ee5050",14);
  leadMark(g,x(leadPos),y(leadT2d),36,"#a97ffd");
  g.append("rect").attr("x",155).attr("y",580.7).attr("width",354.3).attr("height",226.6).attr("fill","none").attr("stroke","#9a9a9a");
  label(g,323,588,"rs77704739 T/C",{size:11.7,weight:"bold",fill:"#111"});
  label(g,320.5,602.5,"OR = 4.32",{size:11.7,fill:"#222"});
  label(g,323,617,["p = 1.75 \u00d7 10",sup("-8")],{size:11.7,fill:"#222"});
  g.append("line").attr("x1",323.4).attr("x2",323.4).attr("y1",623).attr("y2",632).attr("stroke","#333");
  g.append("path").attr("d","M321.9,630L323.4,634L324.9,630Z").attr("fill","#333");
  label(g,120.7,694,logText("-"),{size:15.3,rotate:-90,fill:"#4a4a4a"});
  label(g,550,694,"Recombination rate (cM/Mb)",{size:15.6,rotate:90,fill:"#a9a196"});
  // legend
  label(g,462,595,["r",sup("2")],{size:11,anchor:"start",fill:"#333"});
  g.append("rect").attr("x",457.7).attr("y",603.3).attr("width",44).attr("height",70).attr("fill","#fff").attr("stroke","#888");
  const seg=d3.scaleBand().domain(d3.range(5)).range([610,666.7]);
  g.append("g").selectAll("rect").data(r2Colors).join("rect").attr("x",461).attr("width",7.7).attr("y",(d,i)=>seg(i)).attr("height",seg.bandwidth()).attr("fill",d=>d);
  g.append("rect").attr("x",461).attr("y",610).attr("width",7.7).attr("height",56.7).attr("fill","none").attr("stroke","#555").attr("stroke-width",.7);
  r2Labels.forEach((l,i)=>{
    g.append("line").attr("x1",468.7).attr("x2",472).attr("y1",seg(i+1)).attr("y2",seg(i+1)).attr("stroke","#555");
    label(g,473,618+i*11.7,l,{anchor:"start",size:12.6,fill:"#444"});
  });
  // genes
  g.append("rect").attr("x",155).attr("y",812).attr("width",354.3).attr("height",28.3).attr("fill","#fff").attr("stroke","#aaa");
  const ax=g.append("g").attr("transform","translate(0,840.3)").call(d3.axisBottom(x).tickValues([51.9,52,52.1,52.2,52.3]).tickFormat(d=>d===52?"52":d3.format(".1f")(d)).tickSize(5).tickPadding(4));
  styleAxis(ax,"#777",1,15); ax.selectAll("text").attr("fill","#4a4a4a");
  const gl=(y0,from,to,ex)=>{
    g.append("line").attr("x1",x(from)).attr("x2",x(to)).attr("y1",y0).attr("y2",y0).attr("stroke","#7da2b8").attr("stroke-width",.9);
    g.append("g").selectAll("line").data(ex).join("line").attr("x1",d=>x(d)).attr("x2",d=>x(d)).attr("y1",y0-1.7).attr("y2",y0+1.7).attr("stroke","#5f88a8").attr("stroke-width",.9);
  };
  gl(822,52.085,52.0985,geneExonsPelo);
  gl(836.5,52.085,52.2515,geneExonsItga1);
  gl(822,52.2825,52.3556,geneExonsItga2);
  const gname=(gx,gy,name)=>{
    label(g,gx,gy,name,{size:7,style:"italic",anchor:"end",fill:"#222"});
    g.append("line").attr("x1",gx+1).attr("x2",gx+7.5).attr("y1",gy).attr("y2",gy).attr("stroke","#111");
    g.append("path").attr("d",`M${gx+6},${gy-1.6}L${gx+9},${gy}L${gx+6},${gy+1.6}Z`).attr("fill","#111");
  };
  gname(335,817,"PELO"); gname(387,831.5,"ITGA1"); gname(501,817,"ITGA2");
  label(g,332,875,"Position on chr5 (Mb)",{size:15.2,fill:"#4a4a4a"});
}
// ---------- PANEL c BROWSER ----------
{
  const g=svg.append("g");
  const kx=d3.scaleLinear().domain([56,116]).range([108.7,606.7]);
  const zoom=g.append("g").attr("fill","none").attr("stroke","#333").attr("stroke-width",1);
  zoom.append("path").attr("d","M304.5,886V908.7L109.3,937");
  zoom.append("path").attr("d","M351.3,886V908.7L604.7,936.7");
  leadMark(g,kx(80.8),920,32,"#a97ffd");
  rulerKb.forEach(k=>label(g,kx(k),950.5,`${52000000+k*1000}|`,{anchor:"end",size:8.5,fill:"#333"}));
  label(g,70,963,"RefSeq genes",{anchor:"end",size:8.2,weight:"bold",fill:"#111"});
  // genes rows
  g.append("line").attr("x1",kx(84)).attr("x2",kx(95.9)).attr("y1",964).attr("y2",964).attr("stroke","#5b84e0").attr("stroke-width",1.4).attr("stroke-dasharray","1.6 .9");
  g.append("line").attr("x1",kx(84)).attr("x2",634.7).attr("y1",969).attr("y2",969).attr("stroke","#5b84e0").attr("stroke-width",1.4).attr("stroke-dasharray","1.6 .9");
  g.append("rect").attr("x",kx(95.95)).attr("y",962).attr("width",6.6).attr("height",4).attr("fill","#0d3fb5");
  g.append("rect").attr("x",kx(97.15)).attr("y",962).attr("width",5).attr("height",4).attr("fill","#0d3fb5");
  g.append("rect").attr("x",kx(97.7)).attr("y",963).attr("width",6).attr("height",2).attr("fill","#0d3fb5");
  label(g,332,965,"PELO",{anchor:"middle",size:3.6,fill:"#3f6fd8"});
  label(g,333,970,"ITGA1",{anchor:"middle",size:3.6,fill:"#3f6fd8"});
  const tops=[971.3,989.3,1007,1025,1042.7,1060,1077.7,1095,1113.3,1130.7,1147.7];
  const bots=[988.3,1006,1024,1041.3,1058.7,1075.7,1093.3,1111,1128.3,1145.7,1163.3];
  const labelsY=[979,996.7,1014,1031.3,1048.7,1066,1083.7,1101.3,1118.7,1136,1157];
  g.append("line").attr("x1",82.3).attr("x2",82.3).attr("y1",971).attr("y2",1163.5).attr("stroke","#888").attr("stroke-width",.8);
  trackNames.forEach((n,i)=>{
    const y=d3.scaleLinear().domain([0,trackMax[i]]).range([bots[i],tops[i]]);
    const col=trackColors[i];
    label(g,70,labelsY[i],n,{anchor:"end",size:8.2,weight:"bold",fill:"#111"});
    label(g,81,tops[i]+1,trackMax[i],{anchor:"end",size:7.6,fill:"#444"});
    label(g,81,bots[i]-2.5,"0",{anchor:"end",size:7.6,fill:"#444"});
    const base=g.append("line").attr("x1",82.3).attr("x2",634.7).attr("y1",y(0)).attr("y2",y(0)).attr("stroke",col).attr("stroke-opacity",i<2?.12:.3).attr("stroke-width",.7);
    if(i>=2) base.attr("stroke-dasharray","5 3");
    const area=d3.area().x(d=>kx(d[0])).y0(y(0)).y1(d=>y(d[1]));
    trackBumps[i].forEach(b=>{
      const w=b[1]>4?.45:.4;
      g.append("path").datum([[b[0]-w,0],[b[0],b[1]],[b[0]+w,0]]).attr("d",area).attr("fill",col);
    });
    if(trackProfiles[i].length) g.append("path").datum(trackProfiles[i]).attr("d",area).attr("fill",col);
    if(i==0) rnaFwFaint.forEach(r=>g.append("line").attr("x1",kx(r[0])).attr("x2",kx(r[1])).attr("y1",y(.1)).attr("y2",y(.1)).attr("stroke",col).attr("stroke-width",.7).attr("stroke-opacity",.35));
    if(i==2){
      [[83.6,84.5],[95.9,96.1],[96.2,96.5]].forEach(r=>g.append("rect").attr("x",kx(r[0])).attr("width",kx(r[1])-kx(r[0])).attr("y",y(30)).attr("height",1.4).attr("fill","#4f8fe8"));
    }
  });
  // regulome
  regBlocks.forEach(b=>g.append("rect").attr("x",kx(b[0])).attr("width",kx(b[1])-kx(b[0])).attr("y",b[2]?1184:1174).attr("height",7).attr("fill",b[3]));
  regLabels.forEach(l=>label(g,l[1],l[2],l[0],{anchor:l[3],size:8.5,fill:l[4]}));
  label(g,67,1177.7,"Human islet",{anchor:"end",size:8.2,weight:"bold",fill:"#111"});
  label(g,70,1188,"regulome",{anchor:"end",size:8.2,weight:"bold",fill:"#111"});
  label(g,67,1222,"99% Credible",{anchor:"end",size:8.2,weight:"bold",fill:"#111"});
  label(g,70,1232,"Set variants",{anchor:"end",size:8.2,weight:"bold",fill:"#111"});
  const vx=d3.scaleLinear().domain([52056000,52116000]).range([108.7,606.7]);
  const rowTextY={0:1208,1:1214.7,1.5:1226,2:1240.3,3:1250.3};
  const rowTickY={0:[1212,1217],1:[1212.5,1216.5],1.5:[1230.7,1235.3],2:[1230.7,1235.3],3:[1248.3,1252.3]};
  variantBp.forEach((bp,i)=>{
    const px=vx(bp), r=variantRows[i];
    let ty=rowTextY[r], tk=rowTickY[r];
    if(bp===52083226){ty=1233.7;}
    g.append("line").attr("x1",px).attr("x2",px).attr("y1",tk[0]).attr("y2",tk[1]).attr("stroke","#567").attr("stroke-width",.9);
    const endX = (r===0||r===2)? px+1 : px-1.5;
    label(g,endX,ty,`chr5:${bp}`,{anchor:"end",size:8.5,fill:"#4e7a7a"});
  });
  // highlight bands above tracks
  lociHighlight.forEach(h=>g.append("rect").attr("x",kx(h[0])).attr("width",kx(h[1])-kx(h[0])).attr("y",931.7).attr("height",332.3).attr("fill",h[2]).attr("fill-opacity",.55));
}
</script></body></html>
